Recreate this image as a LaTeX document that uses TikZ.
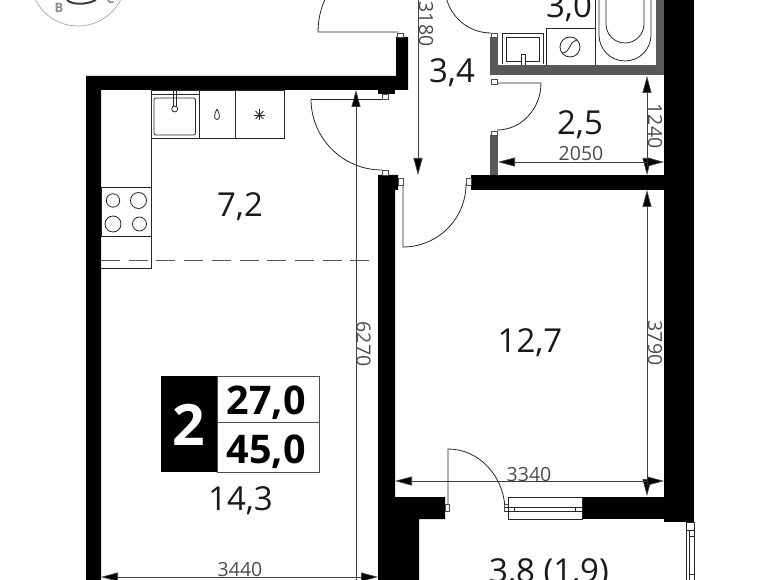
\documentclass[tikz,border=0pt]{standalone}
\usepackage{fontspec}
\setmainfont{Open Sans}
\usetikzlibrary{arrows.meta}
\tikzset{
  wall/.style={fill=black,draw=none},
  partition/.style={fill=black!65,draw=none},
  thin line/.style={draw=black!85,line width=0.8pt},
  stub/.style={draw=black!70,fill=white,line width=0.6pt},
  dim/.style={draw=black!75,line width=0.7pt,{Triangle[length=17pt,width=9pt,fill=black]}-{Triangle[length=17pt,width=9pt,fill=black]}},
  dimtext/.style={text=black!70,font=\fontsize{19.5}{20}\selectfont,anchor=base,inner sep=0pt},
  vdimtext/.style={dimtext,rotate=-90},
  area/.style={text=black!90,font=\fontsize{33}{34}\selectfont,anchor=base,inner sep=0pt},
  total/.style={text=black,font=\bfseries\fontsize{39.5}{41}\selectfont,anchor=base,inner sep=0pt},
}
\begin{document}
\begin{tikzpicture}[x=1pt,y=-1pt]
  \useasboundingbox (0,0) rectangle (780,580);
  \clip (0,0) rectangle (780,580);
  % logo
  \draw[black!35,line width=0.7pt] (78,-21.7) circle (47.7);
  \draw[black!75,line width=2pt] (67,0) .. controls (72,5) and (86,5) .. (96,0);
  \node[text=black!45,font=\bfseries\fontsize{13}{14}\selectfont,anchor=base,inner sep=0pt] (logob) at (59,13) {В};
  \node[text=black!45,font=\bfseries\fontsize{13}{14}\selectfont,anchor=base,inner sep=0pt] (logoc) at (110.5,4) {C};
  % walls
  \fill[wall] (86,76) -- (396,76) -- (396,37) -- (408,37) -- (408,90) -- (101,90) -- (101,580) -- (86,580) -- cycle;
  \fill[wall] (378,89) rectangle (395,94);
  \fill[wall] (378,175) -- (398,175) -- (398,190) -- (395,190) -- (395,497) -- (445,497) -- (445,519) -- (419,519) -- (419,580) -- (378,580) -- cycle;
  \fill[wall] (471,175) rectangle (664,190);
  \fill[wall] (664,0) rectangle (694,522);
  \fill[wall] (582,497) rectangle (664,519);
  % bathroom partitions
  \fill[partition] (490,37) rectangle (498,75);
  \fill[partition] (490,65) rectangle (664,75);
  \fill[partition] (656,0) rectangle (664,75);
  \fill[partition] (490,135) rectangle (498,175);
  % door stubs
  \draw[stub] (382,94) rectangle (388,99);
  \draw[stub] (382,170) rectangle (388,175);
  \draw[stub] (398,178) rectangle (403,185);
  \draw[stub] (466,178) rectangle (471,185);
  \draw[stub] (397,33) rectangle (403,37);
  \draw[stub] (491,33) rectangle (497,37);
  \draw[stub] (491,79) rectangle (497,84);
  \draw[stub] (491,131) rectangle (497,135);
  % door leaves
  \draw[thin line] (398,32) -- (318,32) arc (180:245:80);
  \draw[thin line] (311,99) -- (382,99);
  \draw[thin line] (311,99) arc (180:90:71);
  \draw[thin line] (403,185) -- (403,247) arc (90:0:63);
  \draw[thin line] (491,33) arc (90:170:46);
  \draw[thin line] (498,83) -- (541,83) arc (0:90:44 and 47);
  \draw[thin line] (448,511) -- (448,449) arc (-90:0:57 and 62);
  \draw[stub] (445,504) rectangle (449,511);
  \draw[stub] (504,504) rectangle (508,511);
  % kitchen
  \draw[thin line] (151,90) -- (151,268) -- (101,268);
  \draw[thin line] (151,90) -- (284,90) -- (284,138) -- (151,138);
  \draw[thin line] (199,90) -- (199,138);
  \draw[thin line] (235.5,90) -- (235.5,138);
  \draw[thin line] (151,94.5) -- (199,94.5);
  \draw[thin line,rounded corners=2pt] (154,98) rectangle (195.5,135);
  \draw[thin line] (173.5,90) -- (173.5,106) (176,90) -- (176,106);
  \draw[thin line,fill=white] (174.7,109) circle (3);
  \draw[thin line] (217,109) .. controls (214,114) and (213.5,119.5) .. (217,119.5) .. controls (220.5,119.5) and (220,114) .. (217,109);
  \foreach \a in {0,45,90,135} {
    \draw[thin line] (259.5,115) ++(\a:5.5) -- ++(\a+180:11);
  }
  \draw[thin line] (101,187) rectangle (151,236);
  \draw[thin line] (113,200.5) circle (6.7);
  \draw[thin line] (138.5,200.5) circle (8);
  \draw[thin line] (113,224) circle (8);
  \draw[thin line] (139.5,224) circle (7);
  \draw[draw=black!65,line width=0.8pt,dash pattern=on 19pt off 8.7pt] (101,260) -- (378,260);
  % bathroom fixtures
  \draw[thin line] (502,64) -- (502,33) -- (543,33) -- (543,64);
  \draw[thin line] (506,61) -- (506,37) -- (539,37) -- (539,61) -- cycle;
  \draw[thin line,fill=white] (521,65) -- (521,54) -- (525,54) -- (525,65);
  \draw[thin line] (546,65) -- (546,28) -- (595,28) -- (595,65);
  \draw[thin line] (595,28) -- (595,0);
  \draw[thin line] (570,47) circle (10);
  \draw[thin line] (562,53) .. controls (572,52) and (567,43) .. (577,40);
  \draw[thin line] (599,0) -- (599,35) arc (180:0:26) -- (651,0);
  \draw[thin line] (606,0) -- (606,24) arc (180:0:19) -- (644,0);
  % window
  \draw[thin line] (508,497) rectangle (582,519);
  \draw[thin line] (505,507) -- (582,507) (505,511) -- (582,511);
  \draw[thin line] (514,507) -- (514,511) (575,507) -- (575,511);
  \draw[thin line] (686,522) -- (686,580) (694,522) -- (694,580) (686,522) -- (694,522);
  \draw[thin line] (686,530) -- (694,530);
  \draw[thin line] (689.5,530) -- (689.5,580);
  \draw[thin line] (689.5,536) -- (694,536) (689.5,574) -- (694,574);
  % dimensions
  \coordinate (a1) at (356,90);
  \coordinate (a2) at (356,600);
  \coordinate (b1) at (418,-20);
  \coordinate (b2) at (418,175);
  \coordinate (c1) at (647,76);
  \coordinate (c2) at (647,175);
  \coordinate (d1) at (647,190);
  \coordinate (d2) at (647,496);
  \coordinate (e1) at (498,162);
  \coordinate (e2) at (664,162);
  \coordinate (f1) at (395,481);
  \coordinate (f2) at (664,481);
  \coordinate (g1) at (101,577);
  \coordinate (g2) at (378,577);
  \draw[dim] (a1) -- (a2);
  \draw[dim] (b1) -- (b2);
  \draw[dim] (c1) -- (c2);
  \draw[dim] (d1) -- (d2);
  \draw[dim] (e1) -- (e2);
  \draw[dim] (f1) -- (f2);
  \draw[dim] (g1) -- (g2);
  \node[vdimtext] (dim6270) at (356.5,344) {6270};
  \node[vdimtext] (dim3180) at (419,24) {3180};
  \node[vdimtext] (dim1240) at (648,126) {1240};
  \node[vdimtext] (dim3790) at (648,343) {3790};
  \node[dimtext] (dim2050) at (581,161) {2050};
  \node[dimtext] (dim3340) at (529,481) {3340};
  \node[dimtext] (dim3440) at (240,576) {3440};
  % areas
  \node[area] (kitchen) at (240,217) {7,2};
  \node[area] (hall) at (452,83) {3,4};
  \node[area] (bath) at (569,18) {3,0};
  \node[area] (closet) at (580,135) {2,5};
  \node[area] (bedroom) at (530,353) {12,7};
  \node[area] (living) at (240.5,510) {14,3};
  \node[area] (balcony) at (549,582) {3,8 (1,9)};
  % legend
  \draw[black!70,line width=0.7pt] (217,376) rectangle (319,472);
  \draw[black!70,line width=0.7pt] (217,422) -- (319,422);
  \fill[black] (161,376) rectangle (217,472);
  \node[text=white,font=\bfseries\fontsize{57}{58}\selectfont,anchor=base,inner sep=0pt] (rooms) at (189,446) {2};
  \node[total] (livingarea) at (266,414) {27,0};
  \node[total] (totalarea) at (266,463) {45,0};
\end{tikzpicture}
\end{document}
